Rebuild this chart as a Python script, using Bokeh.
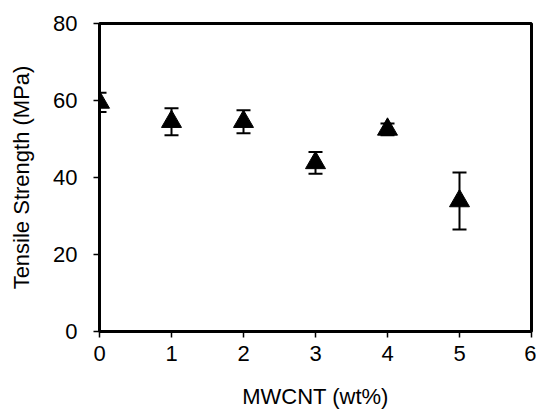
from bokeh.plotting import figure
from bokeh.models import ColumnDataSource, Whisker, TeeHead, Range1d, FixedTicker
from bokeh.embed import file_html
from bokeh.resources import INLINE

mwcnt = [0, 1, 2, 3, 4, 5]
strength = [59.5, 54.5, 54.5, 43.8, 52.5, 33.9]
err = [2.5, 3.5, 3.0, 2.8, 1.5, 7.4]

upper = [s + e for s, e in zip(strength, err)]
lower = [s - e for s, e in zip(strength, err)]
src = ColumnDataSource(dict(x=mwcnt, y=strength, upper=upper, lower=lower))

FONT = "Liberation Sans"
FS = "22px"

p = figure(width=536, height=411, output_backend="svg", toolbar_location=None,
           x_range=Range1d(0, 6), y_range=Range1d(0, 80),
           min_border_left=99, min_border_right=5, min_border_top=23, min_border_bottom=78)
p.xgrid.visible = False
p.ygrid.visible = False
p.outline_line_color = "black"
p.outline_line_width = 3
p.outline_line_alpha = 1

w = Whisker(source=src, base="x", upper="upper", lower="lower", dimension="height",
            line_color="black", line_width=2,
            upper_head=TeeHead(size=14, line_width=2, line_color="black"),
            lower_head=TeeHead(size=14, line_width=2, line_color="black"))
p.add_layout(w)
p.scatter("x", "y", source=src, marker="triangle", size=20, fill_color="black", line_color="black")

for ax in (p.xaxis[0], p.yaxis[0]):
    ax.axis_line_width = 3
    ax.axis_line_color = "black"
    ax.major_tick_in = 0
    ax.major_tick_out = 6
    ax.major_tick_line_width = 1.5
    ax.minor_tick_line_color = None
    ax.major_label_text_font = FONT
    ax.major_label_text_font_size = FS
    ax.major_label_text_color = "black"
    ax.axis_label_text_font = FONT
    ax.axis_label_text_font_size = FS
    ax.axis_label_text_font_style = "normal"
    ax.axis_label_text_color = "black"

p.xaxis.ticker = FixedTicker(ticks=[0, 1, 2, 3, 4, 5, 6])
p.yaxis.ticker = FixedTicker(ticks=[0, 20, 40, 60, 80])
p.xaxis.axis_label = "MWCNT (wt%)"
p.yaxis.axis_label = "Tensile Strength (MPa)"
p.xaxis.major_label_standoff = 8
p.yaxis.major_label_standoff = 16
p.xaxis.axis_label_standoff = 20
p.yaxis.axis_label_standoff = 16

open("out.html", "w").write(file_html(p, INLINE))
